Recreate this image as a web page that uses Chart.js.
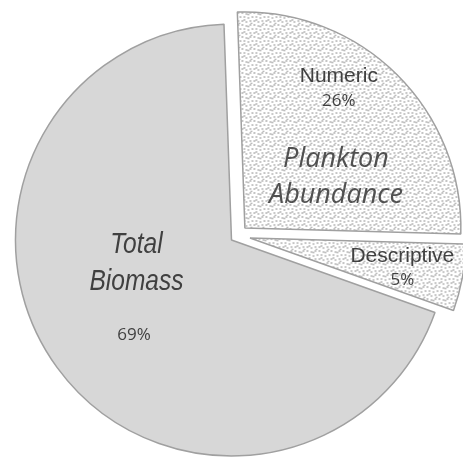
<!DOCTYPE html>
<html lang="en">
<head>
    <meta charset="UTF-8">
    <title>Plankton Abundance vs Total Biomass</title>
    <script src="https://cdn.jsdelivr.net/npm/chart.js"></script>
    <style>
        html, body { margin: 0; padding: 0; background: #fff; }
        #wrap { width: 463px; height: 460px; position: relative; }
    </style>
</head>
<body>
    <div id="wrap"><canvas id="pie"></canvas></div>

    <script>
        // data
        const categories = ['Numeric', 'Descriptive', 'Total Biomass'];
        const shares = [26, 5, 69];
        const pctLabels = ['26%', '5%', '69%'];
        const groupLabel = ['Plankton', 'Abundance'];
        const biomassLabel = ['Total', 'Biomass'];

        // how far each slice is pulled out (px) and in which direction (deg, clockwise from top)
        const explodeDist = [18, 18.6, 0];
        const explodeDir = [48, 84, 0];

        // stippled fill for the plankton slices
        function stipple() {
            const c = document.createElement('canvas');
            c.width = 12; c.height = 12;
            const g = c.getContext('2d');
            g.fillStyle = '#ffffff';
            g.fillRect(0, 0, 12, 12);
            g.fillStyle = '#bcbcbc';
            const dots = [[1,1],[5,2],[9,1],[3,5],[7,6],[11,5],[1,9],[5,10],[9,9],[7,2.5],[3,8],[10,11.5]];
            dots.forEach(([x, y]) => {
                g.beginPath();
                g.arc(x, y, 1.05, 0, Math.PI * 2);
                g.fill();
            });
            return g.createPattern(c, 'repeat');
        }
        const dotted = stipple();

        function shiftOf(i) {
            const a = (explodeDir[i] - 90) * Math.PI / 180;
            return [Math.cos(a) * explodeDist[i], Math.sin(a) * explodeDist[i]];
        }

        // draw the arcs ourselves so each one can be pulled out along its own direction
        const explodePlugin = {
            id: 'explode',
            beforeDatasetDraw(chart, args) {
                const ctx = chart.ctx;
                args.meta.data.forEach((arc, i) => {
                    const [dx, dy] = shiftOf(i);
                    ctx.save();
                    ctx.translate(dx, dy);
                    arc.draw(ctx);
                    ctx.restore();
                });
                return false;
            }
        };

        const SANS = '"Liberation Sans", Arial, sans-serif';
        const OPEN = '"Open Sans", sans-serif';

        // text inside slices: first baseline at (angle clockwise from top, radius fraction)
        const sliceText = [
            { i: 0, a: 32.7, r: 0.805, gap: 24, lines: [[categories[0], '21px ' + SANS], [pctLabels[0], '17px ' + OPEN]] },
            { i: 0, a: 56.3, r: 0.507, gap: 36, color: '#505050', lines: [[groupLabel[0], 'italic 27px ' + OPEN], [groupLabel[1], 'italic 27px ' + OPEN]] },
            { i: 1, a: 98.9, r: 0.714, gap: 23, lines: [[categories[1], '21px ' + SANS], [pctLabels[1], '17px ' + OPEN]] },
            { i: 2, a: 262.3, r: 0.444, gap: 37, narrow: 0.845, lines: [[biomassLabel[0], 'italic 29px ' + SANS], [biomassLabel[1], 'italic 29px ' + SANS]] },
            { i: 2, a: 224.4, r: 0.645, gap: 0, lines: [[pctLabels[2], '17px ' + OPEN]] }
        ];

        const labelPlugin = {
            id: 'sliceText',
            afterDatasetsDraw(chart) {
                const ctx = chart.ctx;
                const arcs = chart.getDatasetMeta(0).data;
                ctx.save();
                ctx.textAlign = 'center';
                ctx.textBaseline = 'alphabetic';
                sliceText.forEach(t => {
                    const arc = arcs[t.i];
                    const [dx, dy] = shiftOf(t.i);
                    const ang = (t.a - 90) * Math.PI / 180;
                    const px = arc.x + dx + Math.cos(ang) * arc.outerRadius * t.r;
                    const py = arc.y + dy + Math.sin(ang) * arc.outerRadius * t.r;
                    t.lines.forEach((ln, k) => {
                        ctx.font = ln[1];
                        ctx.fillStyle = t.color || '#404040';
                        ctx.save();
                        ctx.translate(px, py + k * t.gap);
                        if (t.narrow) ctx.scale(t.narrow, 1);
                        ctx.fillText(ln[0], 0, 0);
                        ctx.restore();
                    });
                });
                ctx.restore();
            }
        };

        new Chart(document.getElementById('pie'), {
            type: 'pie',
            data: {
                labels: categories,
                datasets: [{
                    data: shares,
                    backgroundColor: [dotted, dotted, '#d7d7d7'],
                    borderColor: '#a0a0a0',
                    borderWidth: 1.5
                }]
            },
            options: {
                responsive: true,
                maintainAspectRatio: false,
                animation: false,
                rotation: -2,
                radius: 216,
                layout: { padding: { top: 20, bottom: 0, left: 0, right: 0 } },
                plugins: {
                    legend: { display: false },
                    tooltip: { enabled: false }
                }
            },
            plugins: [explodePlugin, labelPlugin]
        });
    </script>
</body>
</html>
